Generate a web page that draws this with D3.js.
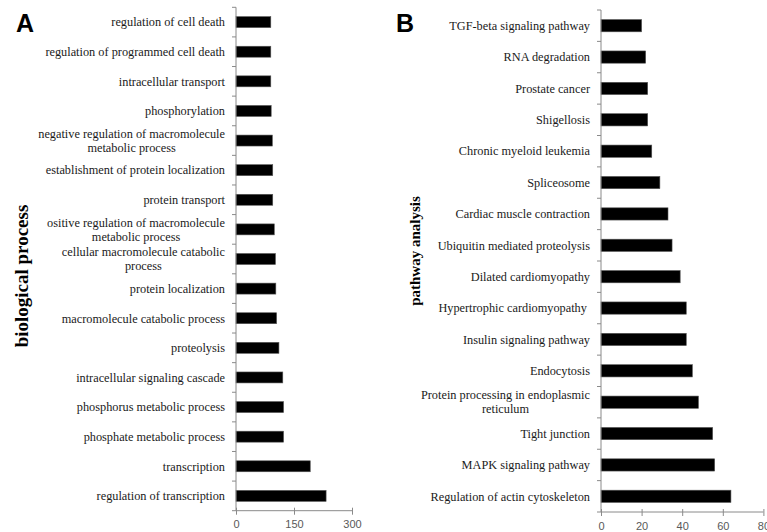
<!DOCTYPE html>
<html><head><meta charset="utf-8">
<script src="https://cdn.jsdelivr.net/npm/d3@7"></script>
<style>
html,body{margin:0;padding:0;background:#fff;}
svg{display:block;}
</style></head>
<body>
<svg id="chart" width="767" height="532"></svg>
<script>
// Panel A: biological process (top to bottom)
const categoriesA = [
  "regulation of cell death",
  "regulation of programmed cell death",
  "intracellular transport",
  "phosphorylation",
  "negative regulation of macromolecule|metabolic process",
  "establishment of protein localization",
  "protein transport",
  "ositive regulation of macromolecule|metabolic process",
  "cellular macromolecule catabolic|process",
  "protein localization",
  "macromolecule catabolic process",
  "proteolysis",
  "intracellular signaling cascade",
  "phosphorus metabolic process",
  "phosphate metabolic process",
  "transcription",
  "regulation of transcription"
];
const valuesA = [90, 90, 90, 91, 94, 95, 95, 99, 102, 103, 105, 111, 121, 123, 123, 192, 233];
const ticksA = [0, 150, 300];

// Panel B: pathway analysis (top to bottom)
const categoriesB = [
  "TGF-beta signaling pathway",
  "RNA degradation",
  "Prostate cancer",
  "Shigellosis",
  "Chronic myeloid leukemia",
  "Spliceosome",
  "Cardiac muscle contraction",
  "Ubiquitin mediated proteolysis",
  "Dilated cardiomyopathy",
  "Hypertrophic cardiomyopathy ",
  "Insulin signaling pathway",
  "Endocytosis",
  "Protein processing in endoplasmic|reticulum",
  "Tight junction",
  "MAPK signaling pathway",
  "Regulation of actin cytoskeleton"
];
const valuesB = [20, 22, 23, 23, 25, 29, 33, 35, 39, 42, 42, 45, 48, 55, 56, 64];
const ticksB = [0, 20, 40, 60, 80];

const svg = d3.select("#chart");

function panel(cfg) {
  const g = svg.append("g");
  const x = d3.scaleLinear().domain(cfg.xDomain).range([cfg.x0, cfg.x1]);
  const y = d3.scaleBand().domain(cfg.cats).range([cfg.y0, cfg.y1])
    .paddingInner(cfg.pad).paddingOuter(cfg.pad / 2);
  const step = y.step();
  const data = cfg.cats.map((c, i) => ({c, v: cfg.vals[i]}));

  // bars
  g.selectAll("rect.bar").data(data).enter().append("rect")
    .attr("class", "bar")
    .attr("x", x(0))
    .attr("y", d => y(d.c))
    .attr("width", d => x(d.v) - x(0))
    .attr("height", y.bandwidth())
    .attr("fill", "#000")
    .attr("stroke", "#555")
    .attr("stroke-width", 0.6);

  // y axis line and band-boundary ticks
  const axisColor = "#8a8a8a";
  g.append("line").attr("x1", x(0)).attr("x2", x(0))
    .attr("y1", cfg.y0).attr("y2", cfg.y1)
    .attr("stroke", axisColor).attr("stroke-width", 1);
  const bounds = d3.range(cfg.cats.length + 1).map(i => cfg.y0 + i * step);
  g.selectAll("line.yt").data(bounds).enter().append("line")
    .attr("x1", x(0) - 4).attr("x2", x(0))
    .attr("y1", d => d).attr("y2", d => d)
    .attr("stroke", axisColor).attr("stroke-width", 1);

  // x axis
  const xAxis = d3.axisBottom(x).tickValues(cfg.ticks).tickSize(4).tickPadding(6);
  const ax = g.append("g").attr("transform", `translate(0,${cfg.y1})`).call(xAxis);
  ax.select(".domain").attr("stroke", axisColor).attr("d", `M${x.range()[0]},0H${x.range()[1]}`);
  ax.selectAll(".tick line").attr("stroke", axisColor).attr("y1", -3).attr("y2", 4);
  ax.selectAll(".tick text").attr("fill", "#595959")
    .style("font-family", "'Liberation Sans', Arial, sans-serif")
    .style("font-size", "11px");

  // category labels
  const lh = 14;
  data.forEach(d => {
    const lines = d.c.split("|");
    const cy = y(d.c) + y.bandwidth() / 2;
    const t = g.append("text")
      .attr("fill", "#1a1a1a")
      .style("font-family", "'Liberation Serif', 'Times New Roman', serif")
      .style("font-size", "12.3px")
      .style("white-space", "pre");
    lines.forEach((ln, i) => {
      t.append("tspan").text(ln)
        .attr("y", cy + (i - (lines.length - 1) / 2) * lh)
        .attr("dy", "0.35em");
    });
    // measure and right-align the block, centring lines inside it
    const widths = t.selectAll("tspan").nodes().map(n => n.getComputedTextLength());
    const maxW = d3.max(widths);
    t.attr("text-anchor", "middle");
    t.selectAll("tspan").attr("x", cfg.labelRight - maxW / 2);
  });

  // axis title
  g.append("text")
    .attr("transform", `translate(${cfg.titleX},${cfg.titleY}) rotate(-90)`)
    .attr("text-anchor", "middle")
    .attr("dy", "0.35em")
    .attr("fill", "#000")
    .style("font-family", "'Liberation Serif', 'Times New Roman', serif")
    .style("font-weight", "bold")
    .style("font-size", cfg.titleSize + "px")
    .text(cfg.title);

  // panel letter
  g.append("text")
    .attr("x", cfg.letterX).attr("y", 32)
    .attr("fill", "#000")
    .style("font-family", "'Liberation Sans', Arial, sans-serif")
    .style("font-weight", "bold")
    .style("font-size", "25px")
    .text(cfg.letter);
}

panel({
  cats: categoriesA, vals: valuesA, ticks: ticksA,
  xDomain: [0, 300], x0: 236, x1: 352, y0: 7.3, y1: 510.7, pad: 0.63,
  labelRight: 225, title: "biological process", titleX: 21, titleY: 276, titleSize: 19,
  letter: "A", letterX: 16
});
panel({
  cats: categoriesB, vals: valuesB, ticks: ticksB,
  xDomain: [0, 80], x0: 601, x1: 763.4, y0: 10, y1: 512, pad: 0.61,
  labelRight: 590, title: "pathway analysis", titleX: 415, titleY: 251, titleSize: 15,
  letter: "B", letterX: 396
});
</script>
</body></html>
